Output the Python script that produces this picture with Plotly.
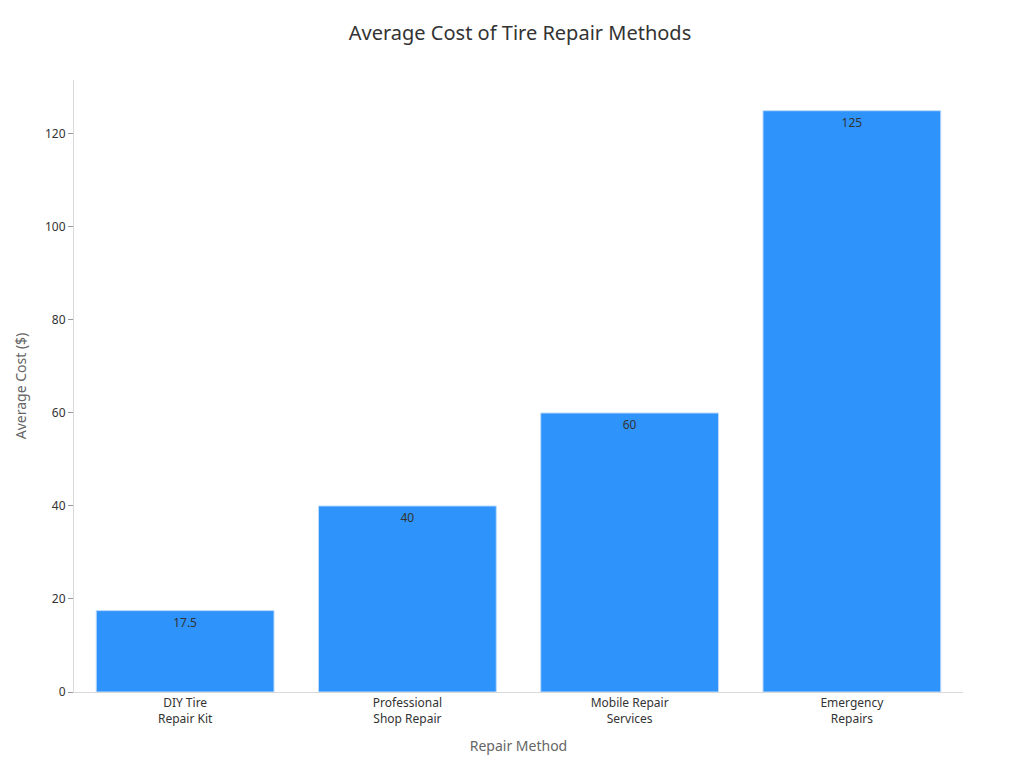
import plotly.graph_objects as go

methods = ["DIY Tire<br>Repair Kit", "Professional<br>Shop Repair", "Mobile Repair<br>Services", "Emergency<br>Repairs"]
avg_cost = [17.5, 40, 60, 125]
cost_labels = ["17.5", "40", "60", "125"]

fig = go.Figure(
    go.Bar(
        x=methods,
        y=avg_cost,
        text=cost_labels,
        textposition="inside",
        insidetextanchor="end",
        textfont=dict(color="#333333", size=12),
        marker=dict(color="#2E93FA", line=dict(color="#BFDCFB", width=1)),
        width=0.8,
    )
)

fig.update_layout(
    title=dict(text="Average Cost of Tire Repair Methods", x=0.5, y=0.967, yanchor="middle",
               font=dict(size=20, color="#333333")),
    font=dict(family="Noto Sans", color="#333333"),
    width=1024,
    height=768,
    margin=dict(l=60, r=69, t=72, b=84),
    plot_bgcolor="white",
    paper_bgcolor="white",
    showlegend=False,
    xaxis=dict(
        title=dict(text="Repair Method", font=dict(size=14, color="#666666")),
        showline=True,
        linecolor="#D9D9D9",
        tickfont=dict(size=12),
    ),
    yaxis=dict(
        title=dict(text="Average Cost ($)", font=dict(size=14, color="#666666")),
        range=[0, 131.6],
        dtick=20,
        showgrid=False,
        zeroline=False,
        showline=True,
        linecolor="#D9D9D9",
        ticks="outside",
        tickcolor="#999999",
        ticklen=5,
        tickfont=dict(size=12),
    ),
)

fig.write_html("out.html")
